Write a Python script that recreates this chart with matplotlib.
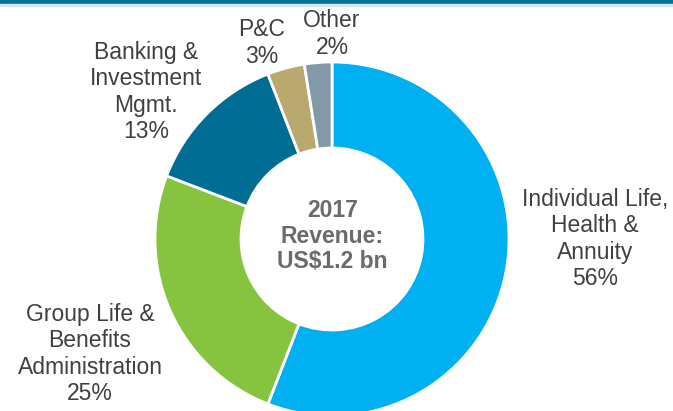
import matplotlib
matplotlib.use("Agg")
import matplotlib.pyplot as plt
from matplotlib.patches import Rectangle

categories = ["Individual Life,\nHealth &\nAnnuity", "Group Life &\nBenefits\nAdministration",
              "Banking &\nInvestment\nMgmt.", "P&C", "Other"]
label_pct = [56, 25, 13, 3, 2]
# unrounded shares
shares = [55.9, 24.9, 13.3, 3.4, 2.5]
colors = ["#00B0F0", "#86C440", "#006E94", "#B9A96E", "#8399A9"]
center_text = "2017\nRevenue:\nUS$1.2 bn"

W, H = 673, 411
fig = plt.figure(figsize=(W / 100, H / 100), dpi=100)
plt.rcParams['font.family'] = ['Liberation Sans', 'DejaVu Sans']

# top bar
fig.patches.append(Rectangle((0, 1 - 4 / H), 1, 4 / H, transform=fig.transFigure,
                             color="#00709A", zorder=5))
fig.patches.append(Rectangle((0, 1 - 6 / H), 1, 2 / H, transform=fig.transFigure,
                             color="#D5E8F0", zorder=5))

cx, cy, R = 332, 239, 177
ax = fig.add_axes([(cx - R) / W, (H - cy - R) / H, 2 * R / W, 2 * R / H])
ax.pie(shares, colors=colors, startangle=90, counterclock=False, radius=1,
       wedgeprops=dict(width=1 - 91 / 177, edgecolor="white", linewidth=2))
ax.set_xlim(-1, 1)
ax.set_ylim(-1, 1)
ax.set_aspect('auto')
ax.axis('off')


def px(x, y):
    return (x - cx) / R, (cy - y) / R


label_pos = [(595, 239), (90, 354), (146, 92), (262, 43), (332, 34)]
for cat, v, (x, y) in zip(categories, label_pct, label_pos):
    dx, dy = px(x, y)
    ax.text(dx, dy, f"{cat}\n{v}%", ha="center", va="center", multialignment="center",
            fontsize=16.5, color="#404040", linespacing=1.17, clip_on=False)

dx, dy = px(332.5, 236)
ax.text(dx, dy, center_text, ha="center", va="center", multialignment="center",
        fontsize=16.5, fontweight="bold", color="#6B6B6B", linespacing=1.15)

fig.savefig("out.png", dpi=100)
